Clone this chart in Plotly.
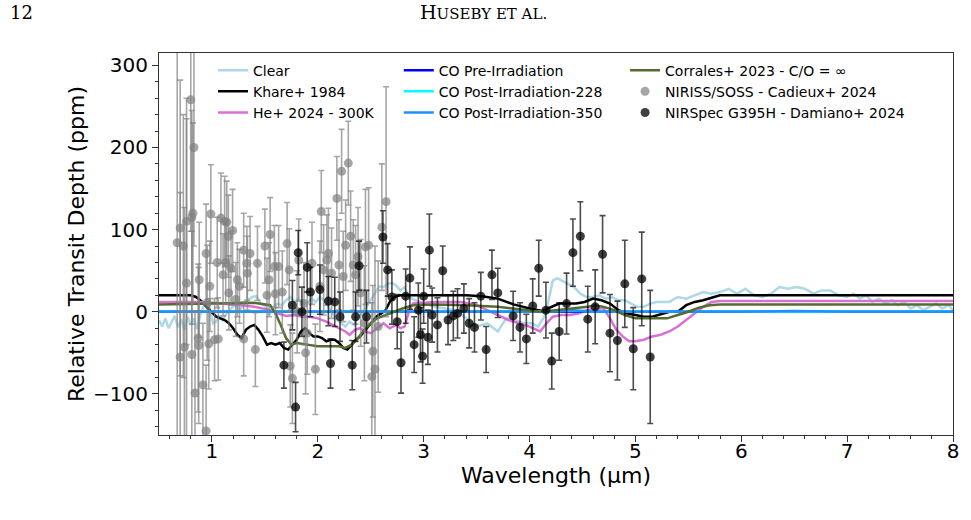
import plotly.graph_objects as go

# ---------------- Model spectra ----------------
clear_x = [
    0.50, 0.53, 0.56, 0.59, 0.62, 0.65, 0.68, 0.71, 0.74, 0.77,
    0.80, 0.83, 0.86, 0.89, 0.92, 0.95, 0.98, 1.01, 1.04, 1.07,
    1.10, 1.14, 1.18, 1.22, 1.26, 1.30, 1.34, 1.38, 1.42, 1.46,
    1.50, 1.54, 1.58, 1.62, 1.66, 1.70, 1.74, 1.78, 1.82, 1.86,
    1.90, 1.94, 1.98, 2.02, 2.06, 2.10, 2.14, 2.18, 2.22, 2.26,
    2.30, 2.34, 2.38, 2.42, 2.46, 2.50, 2.54, 2.58, 2.62, 2.66,
    2.70, 2.74, 2.78, 2.82, 2.86, 2.92, 3.00, 3.10, 3.20, 3.30,
    3.40, 3.50, 3.60, 3.70, 3.78, 3.86, 3.94, 4.02, 4.08, 4.14,
    4.18, 4.22, 4.26, 4.30, 4.36, 4.42, 4.48, 4.54, 4.60, 4.66,
    4.72, 4.78, 4.84, 4.90, 4.96, 5.02, 5.08, 5.14, 5.20, 5.26,
    5.32, 5.40, 5.48, 5.56, 5.64, 5.72, 5.80, 5.88, 5.96, 6.04,
    6.12, 6.20, 6.28, 6.36, 6.44, 6.52, 6.60, 6.68, 6.76, 6.84,
    6.92, 7.00, 7.06, 7.12, 7.18, 7.24, 7.30, 7.36, 7.42, 7.48,
    7.54, 7.60, 7.66, 7.72, 7.78, 7.84, 7.90, 7.96, 8.00]
clear_y = [
    -10, -18, -8, -20, -12, -5, -19, -9, -22, -6,
    -16, -8, -21, -4, 6, 11, 2, -14, -12, -6,
    -10, -2, 4, 8, 2, 8, 14, 18, 19, 10,
    7, -4, 6, 10, 8, 14, 18, 12, 16, 10,
    11, 16, 12, 18, 14, 6, -2, -10, -14, -18,
    -12, -16, -6, -2, 6, 14, 22, 31, 30, 34,
    35, 32, 26, 30, 18, 14, 10, 6, 4, 2,
    -8, -18, -14, -24, -8, -10, -14, -14, -18, -6,
    14, 38, 41, 38, 34, 30, 22, 18, 18, 20,
    16, 18, 14, 14, 10, 6, 6, 10, 12, 12,
    12, 18, 16, 20, 24, 22, 24, 28, 22, 28,
    20, 18, 22, 30, 28, 30, 28, 22, 26, 26,
    20, 18, 22, 16, 20, 12, 16, 10, 14, 8,
    12, 4, 8, 2, 6, 10, 4, 8, 2]

khare_x = [
    0.50, 0.80, 0.85, 0.90, 0.95, 1.00, 1.04, 1.08, 1.12, 1.16,
    1.20, 1.24, 1.28, 1.32, 1.36, 1.40, 1.44, 1.48, 1.52, 1.56,
    1.60, 1.64, 1.68, 1.72, 1.76, 1.80, 1.84, 1.88, 1.92, 1.96,
    2.00, 2.04, 2.08, 2.12, 2.16, 2.20, 2.24, 2.28, 2.32, 2.36,
    2.40, 2.44, 2.48, 2.52, 2.56, 2.60, 2.64, 2.68, 2.72, 2.78,
    2.85, 3.00, 3.20, 3.40, 3.55, 3.70, 3.85, 4.00, 4.12, 4.20,
    4.28, 4.36, 4.44, 4.52, 4.60, 4.68, 4.76, 4.84, 4.92, 5.00,
    5.08, 5.16, 5.24, 5.32, 5.40, 5.48, 5.56, 5.64, 5.72, 5.80,
    5.90, 6.00, 6.50, 7.00, 7.50, 8.00]
khare_y = [
    20, 20, 18, 13, 6, 0, -6, -8, -10, -14,
    -20, -28, -32, -22, -18, -16, -22, -30, -40, -38,
    -40, -38, -44, -46, -40, -34, -24, -20, -26, -30,
    -30, -32, -36, -34, -34, -38, -44, -46, -40, -34,
    -30, -24, -18, -12, -5, -2, 2, 12, 18, 20,
    20, 20, 20, 20, 19, 16, 9, 4, 1, 6,
    10, 10, 10, 12, 16, 14, 10, 2, -2, -4,
    -6, -6, -3, 0, 0, 8, 12, 14, 17, 20,
    20, 20, 20, 20, 20, 20]

he_x = [
    0.50, 0.90, 1.00, 1.20, 1.40, 1.55, 1.62, 1.70, 1.78, 1.85,
    1.92, 2.00, 2.08, 2.14, 2.20, 2.26, 2.30, 2.35, 2.40, 2.45,
    2.50, 2.56, 2.62, 2.68, 2.74, 2.78, 2.82, 2.86, 2.90, 3.10,
    3.35, 3.50, 3.60, 3.70, 3.80, 3.90, 4.00, 4.10, 4.16, 4.22,
    4.30, 4.38, 4.46, 4.54, 4.62, 4.70, 4.76, 4.82, 4.88, 4.94,
    5.00, 5.08, 5.16, 5.24, 5.32, 5.40, 5.48, 5.56, 5.64, 5.72,
    5.80, 6.00, 7.00, 8.00]
he_y = [
    12, 12, 11, 9, 6, 2, -2, -5, -4, -6,
    -6, -8, -12, -16, -20, -24, -28, -22, -20, -24,
    -26, -20, -14, -20, -16, -20, -18, 0, 10, 12,
    12, 8, 2, -4, -10, -14, -18, -24, -14, -6,
    -4, -4, -2, 2, 4, 4, -8, -22, -30, -36,
    -36, -34, -30, -28, -24, -18, -10, -2, 6, 12,
    13, 13, 13, 13]

corr_x = [
    0.50, 1.00, 1.40, 1.55, 1.60, 1.65, 1.70, 1.75, 1.80, 1.90,
    2.00, 2.10, 2.20, 2.26, 2.32, 2.38, 2.44, 2.50, 2.56, 2.64,
    2.72, 2.80, 2.90, 3.10, 3.40, 3.70, 3.90, 4.10, 4.25, 4.40,
    4.55, 4.62, 4.70, 4.80, 4.90, 5.00, 5.10, 5.20, 5.30, 5.40,
    5.50, 5.60, 5.70, 5.80, 6.00, 7.00, 8.00]
corr_y = [
    9, 10, 11, 8, -2, -16, -32, -40, -38, -40,
    -42, -42, -42, -44, -40, -32, -22, -14, -8, -4,
    0, 4, 8, 9, 8, 6, 3, 0, 2, 4,
    6, 8, 6, 2, -4, -8, -8, -8, -8, -4,
    0, 5, 8, 9, 9, 9, 9]

co_x = [0.5, 1.0, 1.5, 2.0, 2.5, 3.0, 3.5, 4.0, 4.3, 4.4,
        4.5, 4.6, 5.0, 5.5, 6.0, 6.5, 7.0, 7.5, 8.0]
co_pre_y = [0, 0, 0, 0, 0, 0, 0, 0, 0, 0,
            0, 0, 0, 0, 0, 0, 0, 0, 0]
co_228_y = [0, 0, 0, 0, 0, 0, 0, 0, 1, 1,
            1, 0, 0, 0, 0, 0, 0, 0, 0]
co_350_y = [0, 0, 0, 0, 0, 0, 0, 0, 1, 2,
            1, 0, 0, 0, 0, 1, 0, 0, 0]

# ---------------- Observations ----------------
niriss_x = [
    0.672, 0.70, 0.70, 0.73, 0.74, 0.76, 0.76, 0.80, 0.81, 0.81,
    0.82, 0.83, 0.84, 0.87, 0.875, 0.88, 0.915, 0.945, 0.945, 0.955,
    0.97, 0.98, 0.99, 1.025, 1.05, 1.06, 1.085, 1.105, 1.12, 1.13,
    1.14, 1.155, 1.16, 1.18, 1.195, 1.225, 1.24, 1.26, 1.30, 1.30,
    1.33, 1.335, 1.36, 1.41, 1.43, 1.50, 1.52, 1.54, 1.55, 1.59,
    1.60, 1.63, 1.665, 1.71, 1.73, 1.74, 1.76, 1.805, 1.82, 1.87,
    1.885, 1.90, 1.945, 1.977, 2.02, 2.033, 2.055, 2.086, 2.10, 2.13,
    2.18, 2.20, 2.225, 2.24, 2.263, 2.288, 2.31, 2.335, 2.357, 2.38,
    2.405, 2.44, 2.45, 2.48, 2.51, 2.52, 2.54, 2.57, 2.605, 2.645]
niriss_y = [
    84, 102, -55, 80, -43, 110, 35, 258, 115, -52,
    120, 200, -99, -32, -41, 39, -89, 71, -145, 11,
    -39, 31, 119, -34, 60, -33, 114, 45, 110, 60,
    109, 92, 23, 53, 99, 15, 39, 31, -33, 75,
    59, 47, 71, -46, 59, 80, 20, 39, 94, 55,
    22, 55, 24, 83, 51, -66, -81, 0, 63, 10,
    -50, -26, 59, -70, 31, 122, 51, 63, 71, 47,
    138, 57, 171, 43, 81, 181, 92, 57, 45, 67,
    23, -14, 79, 81, -79, -48, -70, -18, 103, 134]
niriss_err = [
    250, 180, 200, 160, 170, 150, 200, 160, 130, 150,
    110, 120, 100, 90, 95, 70, 75, 60, 80, 70,
    55, 55, 60, 50, 55, 50, 55, 50, 55, 50,
    50, 50, 45, 45, 50, 45, 45, 45, 45, 45,
    45, 45, 45, 45, 45, 45, 45, 45, 45, 50,
    50, 50, 50, 50, 50, 50, 55, 50, 50, 50,
    50, 50, 50, 55, 55, 50, 55, 55, 55, 55,
    51, 55, 51, 55, 55, 51, 55, 55, 60, 60,
    65, 70, 70, 70, 90, 80, 150, 80, 77, 140]

nirspec_x = [
    1.68, 1.76, 1.79, 1.815, 1.85, 1.90, 1.93, 2.02, 2.10, 2.12,
    2.16, 2.21, 2.325, 2.357, 2.39, 2.46, 2.615, 2.66, 2.70, 2.75,
    2.786, 2.83, 2.87, 2.91, 2.95, 2.97, 2.99, 3.00, 3.04, 3.054,
    3.08, 3.13, 3.18, 3.23, 3.28, 3.32, 3.38, 3.43, 3.48, 3.54,
    3.59, 3.645, 3.70, 3.845, 3.91, 3.97, 4.03, 4.087, 4.155, 4.21,
    4.28, 4.35, 4.41, 4.48, 4.55, 4.62, 4.69, 4.76, 4.83, 4.90,
    4.98, 5.06, 5.14]
nirspec_y = [
    -65, 8, -116, 72, 0, 54, 24, 27, 13, -63,
    12, -6, -65, -6, 56, -6, 91, 51, 18, -12,
    -62, 19, 41, -40, 2, -28, -54, 19, -31, 75,
    -4, -16, 50, -10, -5, -2, 4, -14, -19, 19,
    -46, 45, 23, -5, -19, -33, 7, 53, 2, -60,
    -24, 10, 72, 92, -9, 6, 70, -26, -35, 34,
    -45, 40, -55]
nirspec_err = [
    28, 30, 30, 27, 30, 30, 30, 30, 30, 30,
    30, 30, 30, 30, 30, 32, 32, 32, 33, 33,
    37, 33, 38, 34, 33, 33, 33, 33, 33, 44,
    33, 33, 30, 30, 30, 30, 30, 30, 30, 29,
    28, 30, 30, 30, 30, 30, 33, 34, 34, 34,
    35, 37, 41, 42, 40, 45, 47, 47, 48, 53,
    50, 57, 81]

x_ticks = [1, 2, 3, 4, 5, 6, 7, 8]
y_ticks = [-100, 0, 100, 200, 300]
y_ticktext = ["\u2212100", "0", "100", "200", "300"]

FONT = "DejaVu Sans"
fig = go.Figure()

models = [
    ("Clear", clear_x, clear_y, "#ADD8E6", "legend"),
    ("Khare+ 1984", khare_x, khare_y, "#000000", "legend"),
    ("He+ 2024 - 300K", he_x, he_y, "#DA70D6", "legend"),
    ("CO Pre-Irradiation", co_x, co_pre_y, "#0000FF", "legend2"),
    ("CO Post-Irradiation-228", co_x, co_228_y, "#00FFFF", "legend2"),
    ("CO Post-Irradiation-350", co_x, co_350_y, "#1E90FF", "legend2"),
    ("Corrales+ 2023 - C/O = \u221e", corr_x, corr_y, "#556B2F", "legend3"),
]
for name, xs, ys, col, lg in models:
    fig.add_trace(go.Scatter(x=xs, y=ys, mode="lines", name=name,
                             line=dict(color=col, width=2.5), legend=lg))

gray = "rgba(128,128,128,0.7)"
fig.add_trace(go.Scatter(
    x=niriss_x, y=niriss_y, mode="markers", name="NIRISS/SOSS - Cadieux+ 2024",
    marker=dict(color=gray, size=9),
    error_y=dict(type="data", array=niriss_err, color=gray, thickness=1.6, width=3),
    legend="legend3"))
dark = "rgba(0,0,0,0.75)"
fig.add_trace(go.Scatter(
    x=nirspec_x, y=nirspec_y, mode="markers", name="NIRSpec G395H - Damiano+ 2024",
    marker=dict(color=dark, size=9),
    error_y=dict(type="data", array=nirspec_err, color="rgba(0,0,0,0.7)", thickness=1.6, width=3),
    legend="legend3"))

legend_common = dict(yanchor="top", xanchor="left", y=0.996,
                     bgcolor="rgba(0,0,0,0)", font=dict(family=FONT, size=14, color="#000"),
                     tracegroupgap=0, itemwidth=30)
fig.update_layout(
    width=971, height=520,
    margin=dict(l=159, r=13, t=53, b=85),
    paper_bgcolor="white", plot_bgcolor="white",
    font=dict(family=FONT, color="#000"),
    showlegend=True,
    legend=dict(x=0.068, **legend_common),
    legend2=dict(x=0.302, **legend_common),
    legend3=dict(x=0.587, **legend_common),
    xaxis=dict(range=[0.5, 8], tickvals=x_ticks, ticks="outside", ticklen=6,
               tickcolor="#333", showline=True, linecolor="#333", linewidth=1.2,
               mirror=True, showgrid=False, zeroline=False, ticklabelstandoff=-8,
               tickfont=dict(size=20, family=FONT),
               minor=dict(dtick=0.2, tick0=0, ticks="outside", ticklen=3, tickcolor="#333", showgrid=False),
               title=dict(text="Wavelength (\u00b5m)", font=dict(size=22, family=FONT), standoff=5)),
    yaxis=dict(range=[-150, 315], tickvals=y_ticks, ticktext=y_ticktext,
               ticks="outside", ticklen=6, tickcolor="#333",
               showline=True, linecolor="#333", linewidth=1.2, mirror=True,
               showgrid=False, zeroline=False,
               tickfont=dict(size=20, family=FONT),
               minor=dict(dtick=20, tick0=0, ticks="outside", ticklen=3, tickcolor="#333", showgrid=False),
               title=dict(text="Relative Transit Depth (ppm)", font=dict(size=22, family=FONT), standoff=2)),
)

fig.add_annotation(text="12", xref="paper", yref="paper", x=-152/799, y=1 + 41/382,
                   xanchor="left", yanchor="middle", showarrow=False,
                   font=dict(family="DejaVu Serif", size=18, color="#000"))
fig.add_annotation(text="H<span style='font-size:15px'>USEBY ET AL.</span>", xref="paper", yref="paper",
                   x=(486 - 159) / 799, y=1 + 41/382, xanchor="center", yanchor="middle",
                   showarrow=False, font=dict(family="DejaVu Serif", size=19, color="#000"))

fig.write_html("out.html")
